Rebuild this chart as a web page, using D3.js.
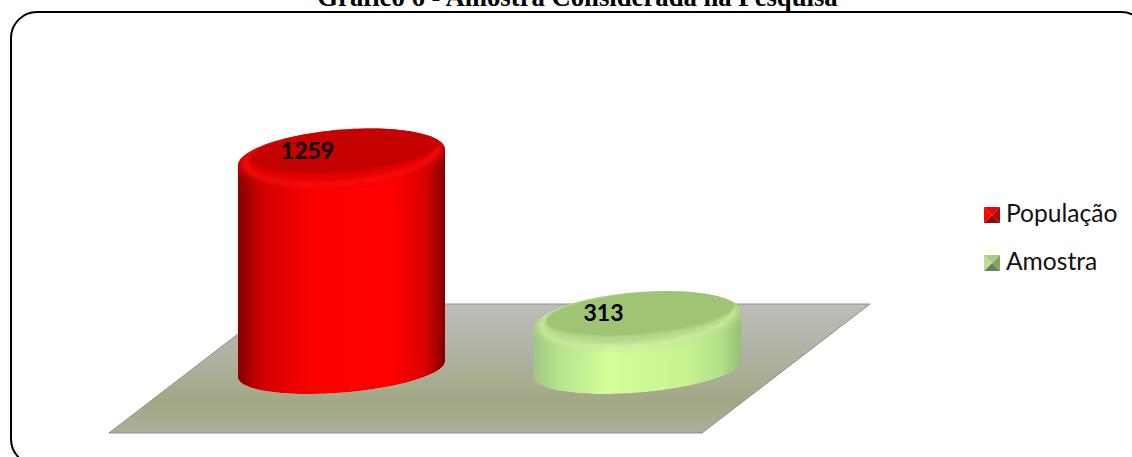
<!DOCTYPE html>
<html>
<head>
<meta charset="utf-8">
<script src="https://cdn.jsdelivr.net/npm/d3@7"></script>
<style>
html, body { margin: 0; padding: 0; background: #fff; overflow: hidden; }
svg { display: block; }
</style>
</head>
<body>
<div id="chart"></div>
<script>
// chart data
var categories = ["População", "Amostra"]
var values = [1259, 313]
var bodyStops = [
    ["#860000", "#d20000", "#fb0000", "#ff0000", "#dc0000", "#800000"],
    ["#a0c882", "#b6e28f", "#d3ff9a", "#c6f290", "#b4e08a", "#96be76"]
]
var capColors = ["#c40000", "#9fc476"]
var rimColors = ["#e40000", "#b2d98a"]
var lightColors = ["#ff2018", "#e4f8b6"]
// legend bevel: top, right, bottom, left
var swatchColors = [
    ["#e80303", "#b40000", "#861010", "#ff0000"],
    ["#a9cb8b", "#86a46a", "#68844f", "#bbe098"]
]
var title = "Gráfico 6 - Amostra Considerada na Pesquisa"

var width = 1132
var height = 457

var svg = d3.select("#chart")
    .append("svg")
    .attr("width", width)
    .attr("height", height)

var defs = svg.append("defs")

// scales: band gives the column centres and widths, linear gives the top of each column
var x = d3.scaleBand()
    .domain(categories)
    .range([193.5, 785.5])
    .paddingInner(0.3)
    .paddingOuter(0.15)

var y = d3.scaleLinear()
    .domain([0, 1259])
    .range([373.8, 157.5])

var baseY = 369      // centre of the bottom ellipses
var baseExtent = 25
var topExtent = 29
var tilt = -8

// sheared ellipse, t in radians
function ellipsePoint(cx, cy, a, extent, t) {
    var b = Math.sqrt(Math.max(extent * extent - tilt * tilt, 1))
    return [cx + a * Math.cos(t), cy + tilt * Math.cos(t) + b * Math.sin(t)]
}

function ellipsePath(cx, cy, a, extent) {
    var pts = d3.range(0, 2 * Math.PI, 0.05).map(function (t) { return ellipsePoint(cx, cy, a, extent, t) })
    return d3.line().curve(d3.curveLinearClosed)(pts)
}

function columnPath(d, i) {
    var cx = x(d) + x.bandwidth() / 2
    var a = x.bandwidth() / 2
    var pts = []
    // front of the base, left to right is t from PI to 0
    d3.range(Math.PI, -0.01, -0.05).forEach(function (t) { pts.push(ellipsePoint(cx, baseY, a, baseExtent, t)) })
    pts.push(ellipsePoint(cx, baseY, a, baseExtent, 0))
    // back of the top, right to left
    d3.range(0, -Math.PI - 0.01, -0.05).forEach(function (t) { pts.push(ellipsePoint(cx, y(values[i]), a, topExtent, t)) })
    pts.push(ellipsePoint(cx, y(values[i]), a, topExtent, Math.PI))
    return d3.line().curve(d3.curveLinearClosed)(pts)
}

// gradients and filters
var floorGrad = defs.append("linearGradient")
    .attr("id", "floorGrad")
    .attr("x1", 0).attr("x2", 0).attr("y1", 0).attr("y2", 1)
floorGrad.selectAll("stop")
    .data([[0, "#bcbeb9"], [0.35, "#b1b3a4"], [0.75, "#a2a885"], [1, "#abaf97"]])
    .enter().append("stop")
    .attr("offset", function (d) { return d[0] })
    .attr("stop-color", function (d) { return d[1] })

var bodyOffsets = [0, 0.12, 0.36, 0.74, 0.9, 1]
bodyStops.forEach(function (stops, i) {
    var g = defs.append("linearGradient").attr("id", "body" + i)
    g.selectAll("stop")
        .data(stops)
        .enter().append("stop")
        .attr("offset", function (d, j) { return bodyOffsets[j] })
        .attr("stop-color", function (d) { return d })
})

;[["soft1", 1], ["soft2", 2.5], ["soft3", 4]].forEach(function (f) {
    defs.append("filter").attr("id", f[0])
        .attr("x", "-10%").attr("y", "-20%").attr("width", "120%").attr("height", "140%")
        .append("feGaussianBlur").attr("stdDeviation", f[1])
})

// rounded frame, runs past the right and bottom edge of the page
svg.append("rect")
    .attr("x", 11)
    .attr("y", 12)
    .attr("width", 1136)
    .attr("height", 453)
    .attr("rx", 26)
    .attr("fill", "none")
    .attr("stroke", "#000")
    .attr("stroke-width", 2)

// title, cut off at the top as in the scan
svg.append("text")
    .attr("x", 577.5)
    .attr("y", 6)
    .attr("text-anchor", "middle")
    .style("font-family", "'Liberation Serif', serif")
    .style("font-weight", "bold")
    .style("font-size", "26.7px")
    .text(title)

// floor of the 3d plot
var floorPoints = [[277, 304], [870, 304], [702, 433], [109, 433]]
svg.append("polygon")
    .attr("points", floorPoints.join(" "))
    .attr("fill", "url(#floorGrad)")
    .attr("stroke", "#8e908c")
    .attr("stroke-width", 1)

// columns
var cols = svg.selectAll(".col")
    .data(categories)
    .enter()
    .append("g")
    .attr("class", "col")

cols.each(function (d, i) {
    var g = d3.select(this)
    var cx = x(d) + x.bandwidth() / 2
    var a = x.bandwidth() / 2
    var topY = y(values[i])

    defs.append("clipPath").attr("id", "clip" + i)
        .append("path").attr("d", columnPath(d, i))

    var inner = g.append("g").attr("clip-path", "url(#clip" + i + ")")
    inner.append("path")
        .attr("d", columnPath(d, i))
        .attr("fill", "url(#body" + i + ")")
    // rounded shoulder under the cap
    inner.append("path")
        .attr("d", ellipsePath(cx, topY - 2, a + 2, topExtent))
        .attr("fill", rimColors[i])
        .attr("filter", "url(#soft3)")
    inner.append("path")
        .attr("d", ellipsePath(cx, topY - 2, a - 8, topExtent))
        .attr("fill", "none")
        .attr("stroke", lightColors[i])
        .attr("stroke-width", 3)
        .attr("stroke-opacity", 0.8)
        .attr("filter", "url(#soft2)")
    inner.append("path")
        .attr("d", ellipsePath(cx + 3, topY - 7, a - 9, 23))
        .attr("fill", capColors[i])
        .attr("filter", "url(#soft1)")
})

// value labels
svg.selectAll(".value")
    .data(values)
    .enter()
    .append("text")
    .attr("class", "value")
    .attr("x", function (d, i) { return x(categories[i]) + x.bandwidth() / 2 - 34 })
    .attr("y", function (d) { return y(d) + 1 })
    .attr("text-anchor", "middle")
    .style("font-family", "Lato, sans-serif")
    .style("font-weight", "bold")
    .style("font-size", "23px")
    .attr("fill", "#000")
    .text(function (d) { return d })

// legend
var legendY = d3.scalePoint()
    .domain(categories)
    .range([215, 263])

var legend = svg.selectAll(".legend")
    .data(categories)
    .enter()
    .append("g")
    .attr("class", "legend")
    .attr("transform", function (d) { return "translate(984," + legendY(d) + ")" })

legend.each(function (d, i) {
    var s = 8
    var c = [s, 0]
    var corners = [[0, -s], [2 * s, -s], [2 * s, s], [0, s]]
    d3.select(this).selectAll("polygon")
        .data(swatchColors[i])
        .enter()
        .append("polygon")
        .attr("points", function (col, j) { return [corners[j], corners[(j + 1) % 4], c].join(" ") })
        .attr("fill", function (col) { return col })
})

legend.append("text")
    .attr("x", 22)
    .attr("y", 7)
    .style("font-family", "Lato, sans-serif")
    .style("font-size", "24.6px")
    .attr("fill", "#111")
    .text(function (d) { return d })
</script>
</body>
</html>
